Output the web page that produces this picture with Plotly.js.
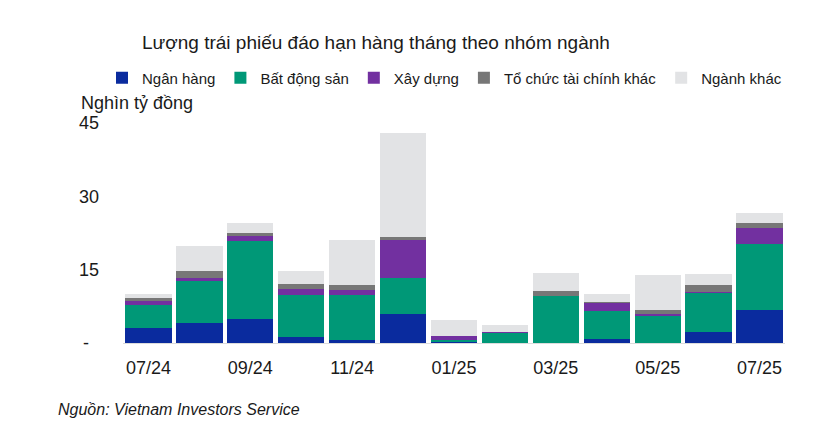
<!DOCTYPE html>
<html>
<head>
<meta charset="utf-8">
<script src="https://cdn.plot.ly/plotly-3.0.1.min.js"></script>
<style>
  html, body { margin: 0; padding: 0; background: #ffffff; }
  #chart { width: 824px; height: 433px; }
</style>
</head>
<body>
<div id="chart"></div>
<script>
const months = ["07/24", "08/24", "09/24", "10/24", "11/24", "12/24", "01/25",
                "02/25", "03/25", "04/25", "05/25", "06/25", "07/25"];

const nganHang   = [3.1, 4.0, 4.9, 1.2, 0.6, 5.9, 0.25, 0, 0, 0.8, 0, 2.25, 6.75];
const batDongSan = [4.6, 8.6, 16.0, 8.55, 9.15, 7.3, 0.4, 2.0, 9.6, 5.8, 5.6, 8.05, 13.6];
const xayDung    = [0.9, 0.6, 1.0, 1.25, 1.1, 7.9, 0.75, 0.15, 0, 1.5, 0.35, 0.1, 3.1];
const toChucTC   = [0.7, 1.5, 0.6, 1.0, 1.0, 0.6, 0.1, 0, 1.0, 0.2, 0.85, 1.5, 1.0];
const nganhKhac  = [0.8, 5.2, 2.0, 2.8, 9.2, 21.3, 3.3, 1.6, 3.65, 1.7, 7.2, 2.3, 2.2];

const xTicks = ["07/24", "09/24", "11/24", "01/25", "03/25", "05/25", "07/25"];
const yTickVals = [0, 15, 30, 45];
const yTickText = ["-\u00a0\u00a0", "15", "30", "45"];

const FONT = "Liberation Sans, Arial, sans-serif";

// plot area in pixels: left 123, top 123, width 662, height 220
const PW = 662, PH = 220;

function series(name, values, color) {
    return {
        type: "bar",
        name: name,
        x: months,
        y: values,
        marker: { color: color, line: { width: 0 } },
        hoverinfo: "x+y+name"
    };
}

const data = [
    series("Ngân hàng", nganHang, "#0a2b9e"),
    series("Bất động sản", batDongSan, "#009877"),
    series("Xây dựng", xayDung, "#7230a0"),
    series("Tổ chức tài chính khác", toChucTC, "#777777"),
    series("Ngành khác", nganhKhac, "#e2e3e5")
];

const layout = {
    width: 824,
    height: 433,
    barmode: "stack",
    bargap: 0.09,
    paper_bgcolor: "#ffffff",
    plot_bgcolor: "#ffffff",
    font: { family: FONT, color: "#1a1a1a", size: 18 },
    margin: { l: 123, r: 39, t: 123, b: 90 },
    title: {
        text: "Lượng trái phiếu đáo hạn hàng tháng theo nhóm ngành",
        font: { family: FONT, size: 19, color: "#1a1a1a" },
        xref: "container", yref: "container",
        x: 142 / 824, xanchor: "left",
        y: 1 - 42 / 433, yanchor: "middle"
    },
    showlegend: true,
    legend: {
        orientation: "h",
        xref: "paper", yref: "paper",
        x: (102 - 123) / PW, xanchor: "left",
        y: 1 + (123 - 78) / PH, yanchor: "middle",
        font: { family: FONT, size: 15, color: "#1a1a1a" },
        traceorder: "normal",
        itemclick: false,
        bgcolor: "rgba(0,0,0,0)"
    },
    xaxis: {
        type: "category",
        tickmode: "array",
        tickvals: xTicks,
        ticktext: xTicks,
        ticks: "",
        showgrid: false,
        showline: true,
        linecolor: "#dcdcdc",
        linewidth: 1,
        zeroline: false,
        tickfont: { family: FONT, size: 18, color: "#1a1a1a" },
        ticklabelstandoff: 8
    },
    yaxis: {
        range: [0, 45],
        tickmode: "array",
        tickvals: yTickVals,
        ticktext: yTickText,
        ticks: "",
        showgrid: false,
        zeroline: false,
        showline: false,
        tickfont: { family: FONT, size: 18, color: "#1a1a1a" },
        ticklabelstandoff: 23
    },
    annotations: [
        {
            text: "Nghìn tỷ đồng",
            xref: "paper", yref: "paper",
            x: (79 - 123) / PW, xanchor: "left",
            y: 1 + (123 - 103) / PH, yanchor: "middle",
            showarrow: false,
            font: { family: FONT, size: 18, color: "#1a1a1a" }
        },
        {
            text: "<i>Nguồn: Vietnam Investors Service</i>",
            xref: "paper", yref: "paper",
            x: (56 - 123) / PW, xanchor: "left",
            y: -(409 - 343) / PH, yanchor: "middle",
            showarrow: false,
            font: { family: FONT, size: 16, color: "#1a1a1a" }
        }
    ]
};

Plotly.newPlot("chart", data, layout, { displayModeBar: false, staticPlot: true });
</script>
</body>
</html>
